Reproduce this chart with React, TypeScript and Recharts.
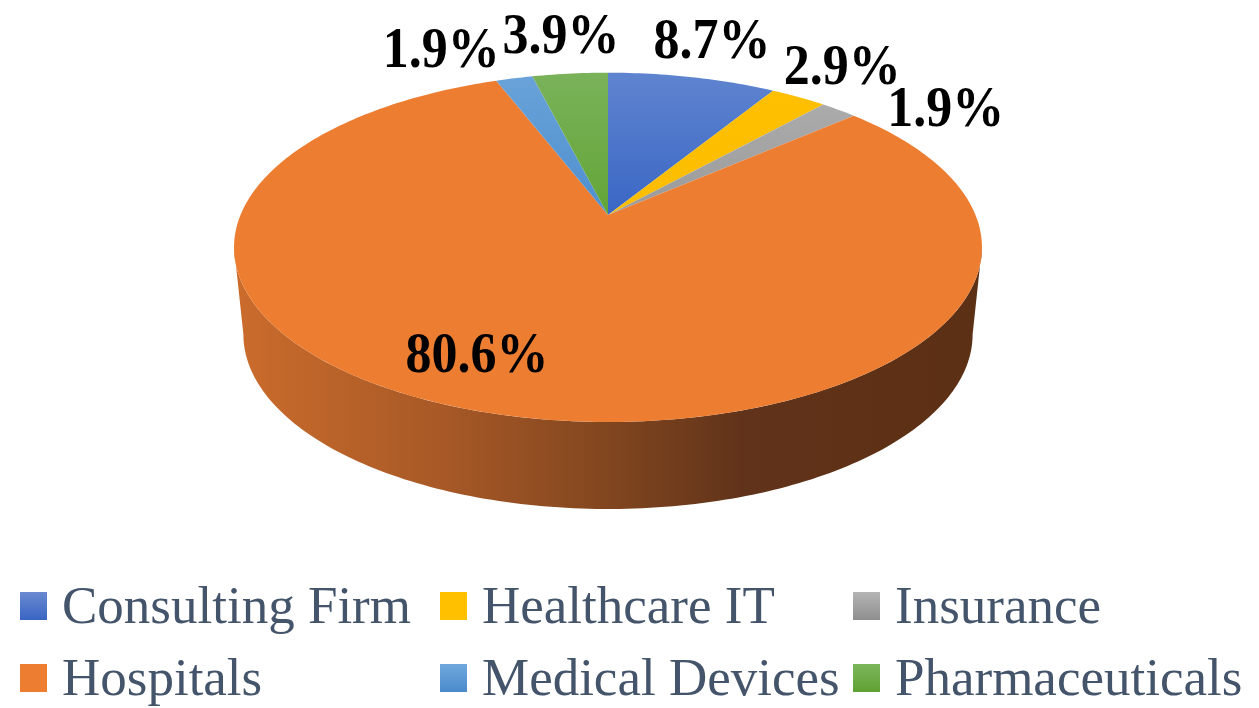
import React from 'react';
import { PieChart, Pie, Cell, Legend } from 'recharts';

const categories = ['Consulting Firm', 'Healthcare IT', 'Insurance', 'Hospitals', 'Medical Devices', 'Pharmaceuticals'];
const shares = [8.7, 2.9, 1.9, 80.6, 1.9, 3.9];
const sliceFills = ['url(#gBlue)', 'url(#gYellow)', 'url(#gGray)', '#ed7d31', 'url(#gLight)', 'url(#gGreen)'];
const swatches = [
  'linear-gradient(#6a8ad0, #3a65c4)',
  'linear-gradient(#ffc000, #ffc000)',
  'linear-gradient(#b5b5b5, #8e8e8e)',
  'linear-gradient(#ed7d31, #ed7d31)',
  'linear-gradient(#70a8dc, #4a8bcd)',
  'linear-gradient(#7cb65c, #5fa132)',
];

const data = categories.map((name, i) => ({ name, value: shares[i] }));

// perspective "3D" projection of the pie disc
const APEX_X = 608;
const APEX_Y = 215;
const RX = 367.5;
const RY = 168.65;
const K = 0.1852;
const DEPTH = 87;
const BOTTOM_SCALE = 0.975;
const SIDE = (Math.acos(-K) * 180) / Math.PI; // silhouette angle on the right

const project = (theta: number, r: number, bottom = false) => {
  const t = (theta * Math.PI) / 180;
  const u = r * Math.sin(t);
  const v = -r * Math.cos(t);
  const den = 1 - K * v;
  const s = bottom ? BOTTOM_SCALE : 1;
  return [APEX_X + (RX * s * u) / den, APEX_Y + (bottom ? DEPTH : 0) + (RY * v) / den];
};

const arc = (a: number, b: number, bottom = false) => {
  const pts: number[][] = [];
  const n = Math.max(2, Math.ceil(Math.abs(b - a)));
  for (let i = 0; i <= n; i++) pts.push(project(a + ((b - a) * i) / n, 1, bottom));
  return pts;
};

const SliceShape = (props: any) => {
  const { startAngle, endAngle, fill } = props;
  const t0 = 90 - startAngle;
  const t1 = 90 - endAngle;
  const top = arc(t0, t1);
  const topPath = `M${APEX_X},${APEX_Y} ` + top.map(p => `L${p[0]},${p[1]}`).join(' ') + ' Z';
  const lo = Math.max(t0, SIDE);
  const hi = Math.min(t1, 360 - SIDE);
  let wall = null;
  if (lo < hi) {
    const upper = arc(lo, hi);
    const lower = arc(hi, lo, true);
    const d = [...upper, ...lower].map((p, i) => `${i ? 'L' : 'M'}${p[0]},${p[1]}`).join(' ') + ' Z';
    wall = <path d={d} fill="url(#gWall)" stroke="none" />;
  }
  return (
    <g>
      {wall}
      <path d={topPath} fill={fill} stroke="none" />
    </g>
  );
};

// label placement (Excel style: outside end, slide along the rim when they collide)
const HW = 58;
const HH = 19;
const total = shares.reduce((s, v) => s + v, 0);
const mids = shares.map((v, i) => {
  const before = shares.slice(0, i).reduce((s, x) => s + x, 0);
  return ((before + v / 2) / total) * 360;
});
const outerPos = (theta: number) => {
  const [x, y] = project(theta, 1);
  const t = (theta * Math.PI) / 180;
  return [x + Math.sin(t) * (HW + 15), y - Math.cos(t) * 39];
};
const labelPos: number[][] = shares.map(() => [0, 0]);
const order = shares
  .map((v, i) => i)
  .filter(i => shares[i] < 50)
  .sort((a, b) => Math.min(mids[a], 360 - mids[a]) - Math.min(mids[b], 360 - mids[b]));
const placed: number[][] = [];
order.forEach(i => {
  let theta = mids[i];
  const step = theta < 180 ? 1 : -1;
  let p = outerPos(theta);
  const hit = (q: number[]) => placed.some(o => Math.abs(o[0] - q[0]) < 2 * HW + 2 && Math.abs(o[1] - q[1]) < 2 * HH + 2);
  let guard = 0;
  while (hit(p) && guard++ < 60) {
    theta += step;
    p = outerPos(theta);
  }
  placed.push(p);
  labelPos[i] = p;
});
shares.forEach((v, i) => {
  if (v >= 50) labelPos[i] = project(mids[i] + 9.5, 0.78);
});

const renderLabel = (props: any) => {
  const i = props.index;
  const [x, y] = labelPos[i];
  return (
    <text
      key={`lbl-${i}`}
      x={0}
      y={0}
      transform={`translate(${x},${y + 18}) scale(1,1.08)`}
      textAnchor="middle"
      fontFamily="'Liberation Serif', 'Times New Roman', serif"
      fontWeight="bold"
      fontSize={52}
      fill="#000"
    >
      {shares[i].toFixed(1)}%
    </text>
  );
};

const renderLegend = () => (
  <div
    style={{
      display: 'grid',
      gridTemplateColumns: '420px 413px 420px',
      fontFamily: "'Liberation Serif', 'Times New Roman', serif",
      fontSize: 53,
      lineHeight: '72px',
      color: '#44546a',
    }}
  >
    {categories.map((c, i) => (
      <div key={c} style={{ position: 'relative', height: 72, paddingLeft: 42, whiteSpace: 'nowrap' }}>
        <span
          style={{
            position: 'absolute',
            left: 0,
            top: 23,
            width: 27,
            height: 28,
            background: swatches[i],
          }}
        />
        {c}
      </div>
    ))}
  </div>
);

export default function App() {
  return (
    <div style={{ position: 'absolute', left: 0, top: 0, width: 1259, height: 708, background: '#fff' }}>
      <PieChart width={1259} height={708}>
        <defs>
          <linearGradient id="gWall" gradientUnits="userSpaceOnUse" x1={234} y1={0} x2={982} y2={0}>
            <stop offset="0" stopColor="#cb6c2c" />
            <stop offset="0.29" stopColor="#a65826" />
            <stop offset="0.5" stopColor="#81461f" />
            <stop offset="0.68" stopColor="#61331a" />
            <stop offset="1" stopColor="#5c3015" />
          </linearGradient>
          <linearGradient id="gBlue" gradientUnits="userSpaceOnUse" x1={0} y1={72} x2={0} y2={215}>
            <stop offset="0" stopColor="#5f84cf" />
            <stop offset="1" stopColor="#3a67c5" />
          </linearGradient>
          <linearGradient id="gYellow" gradientUnits="userSpaceOnUse" x1={0} y1={72} x2={0} y2={215}>
            <stop offset="0" stopColor="#ffc000" />
            <stop offset="1" stopColor="#fbbd00" />
          </linearGradient>
          <linearGradient id="gGray" gradientUnits="userSpaceOnUse" x1={0} y1={72} x2={0} y2={215}>
            <stop offset="0" stopColor="#b0b0b0" />
            <stop offset="1" stopColor="#9a9a9a" />
          </linearGradient>
          <linearGradient id="gLight" gradientUnits="userSpaceOnUse" x1={0} y1={72} x2={0} y2={215}>
            <stop offset="0" stopColor="#6aa3d9" />
            <stop offset="1" stopColor="#4d8fce" />
          </linearGradient>
          <linearGradient id="gGreen" gradientUnits="userSpaceOnUse" x1={0} y1={72} x2={0} y2={215}>
            <stop offset="0" stopColor="#7ab25a" />
            <stop offset="1" stopColor="#63a537" />
          </linearGradient>
        </defs>
        <Pie
          data={data}
          dataKey="value"
          nameKey="name"
          cx={APEX_X}
          cy={APEX_Y}
          outerRadius={RX}
          startAngle={90}
          endAngle={-270}
          stroke="none"
          shape={SliceShape}
          label={renderLabel}
          labelLine={false}
          isAnimationActive={false}
        >
          {data.map((d, i) => (
            <Cell key={d.name} fill={sliceFills[i]} />
          ))}
        </Pie>
        <Legend
          content={renderLegend}
          wrapperStyle={{ position: 'absolute', left: 20, top: 569, width: 1259, bottom: 'auto' }}
        />
      </PieChart>
    </div>
  );
}
